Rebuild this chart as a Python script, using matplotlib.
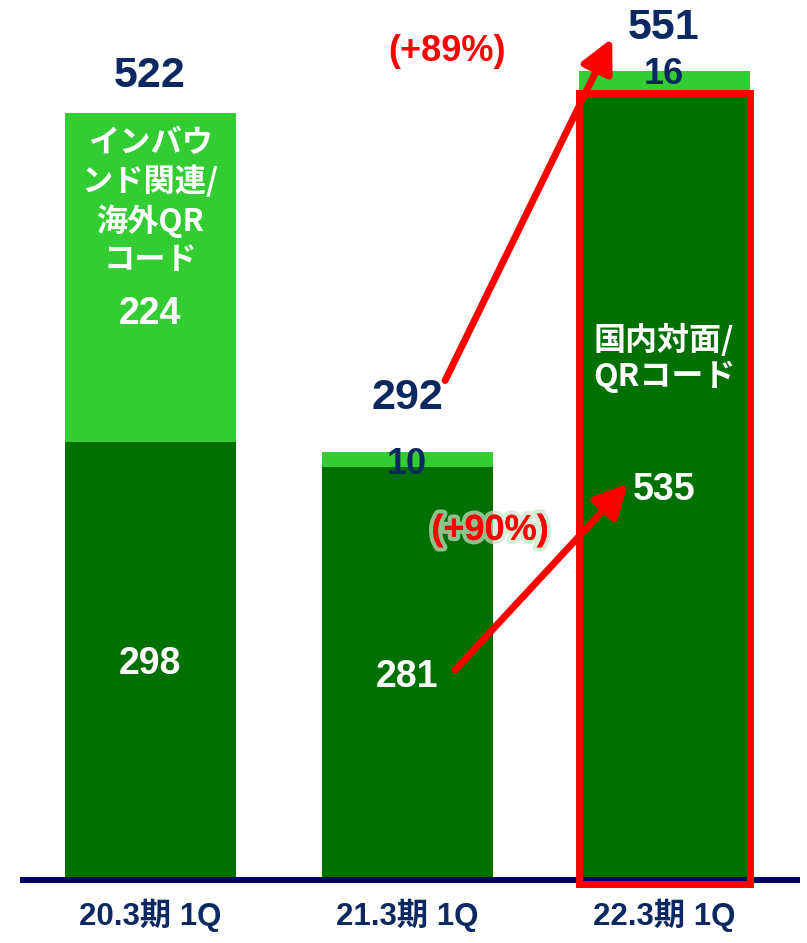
import matplotlib.pyplot as plt
import matplotlib.patheffects as pe
from matplotlib.patches import Rectangle

# --- データ ---
periods = ["20.3期 1Q", "21.3期 1Q", "22.3期 1Q"]
domestic = [298, 281, 535]      # 国内対面/QRコード
inbound = [224, 10, 16]         # インバウンド関連/海外QRコード
totals = [522, 292, 551]
growth_total = "(+89%)"
growth_domestic = "(+90%)"

DARK = "#007000"
LIGHT = "#33CC33"
NAVY = "#0B2860"
RED = "#FF0000"
NUM_FONT = ["Liberation Sans", "Noto Sans CJK JP"]
JP_FONT = ["Noto Sans CJK JP", "DejaVu Sans"]

fig = plt.figure(figsize=(8.07, 9.43), dpi=100)
ax = fig.add_axes([0, 0, 1, 1])
ax.set_xlim(-0.584, 2.556)
ax.set_ylim(-42.9, 599)
ax.axis("off")

x = list(range(len(periods)))
w = 0.665
ax.bar(x, domestic, width=w, color=DARK, zorder=2)
ax.bar(x, inbound, width=w, bottom=domestic, color=LIGHT, zorder=2)

# 軸線
ax.plot([-0.506, 2.529], [0, 0], color="#000066", lw=4.3, zorder=3,
        solid_capstyle="butt")

# 赤枠
ax.add_patch(Rectangle((2 - w / 2, -3), w, domestic[2] + 4, fill=False,
                       edgecolor=RED, lw=5, zorder=4))

# 合計ラベル
tot_off = [25, 36, 29]
for i, t in enumerate(totals):
    ax.text(i, t + tot_off[i], str(t), ha="center", va="center",
            fontsize=31, fontweight="bold", color=NAVY, family=NUM_FONT,
            zorder=6)

# 国内ラベル（白）
for i, v in enumerate(domestic):
    ax.text(i, v / 2 - 2, str(v), ha="center", va="center", fontsize=27,
            fontweight="bold", color="white", family=NUM_FONT, zorder=6)

# インバウンドラベル
ax.text(0, 385, str(inbound[0]), ha="center", va="center", fontsize=27,
        fontweight="bold", color="white", family=NUM_FONT, zorder=6)
in_off = [0, -3, 5]
for i in (1, 2):
    ax.text(i, domestic[i] + inbound[i] / 2 + in_off[i], str(inbound[i]),
            ha="center", va="center", fontsize=26, fontweight="bold",
            color=NAVY, family=NUM_FONT, zorder=6)

# 系列名
ax.text(0, 462, "インバウ\nンド関連/\n海外QR\nコード", ha="center",
        va="center", fontsize=22.5, fontweight="bold", color="white",
        family=JP_FONT, linespacing=1.24, zorder=6)
ax.text(2, 355, "国内対面/\nQRコード", ha="center", va="center",
        fontsize=23, fontweight="bold", color="white", family=JP_FONT,
        linespacing=1.14, zorder=6)

# 矢印
arrow = dict(arrowstyle="-|>,head_length=1.0,head_width=0.5", color=RED,
             lw=5, shrinkA=0, shrinkB=0, mutation_scale=20)
ax.annotate("", xy=(1.798, 573), xytext=(1.148, 340), arrowprops=arrow,
            zorder=5)
ax.annotate("", xy=(1.86, 270), xytext=(1.187, 143), arrowprops=arrow,
            zorder=5)

ax.text(1.156, 564, growth_total, ha="center", va="center", fontsize=26,
        fontweight="bold", color=RED, family=NUM_FONT, zorder=6)
ax.text(1.323, 238, growth_domestic, ha="center", va="center", fontsize=26,
        fontweight="bold", color=RED, family=NUM_FONT, zorder=6,
        path_effects=[pe.withStroke(linewidth=6, foreground="#C8E6C8",
                                    alpha=0.7),
                      pe.Normal()])

# カテゴリラベル
for i, p in enumerate(periods):
    ax.text(i, -24, p, ha="center", va="center", fontsize=22.5,
            fontweight="bold", color=NAVY, family=NUM_FONT)

fig.savefig("out.png", dpi=100)
